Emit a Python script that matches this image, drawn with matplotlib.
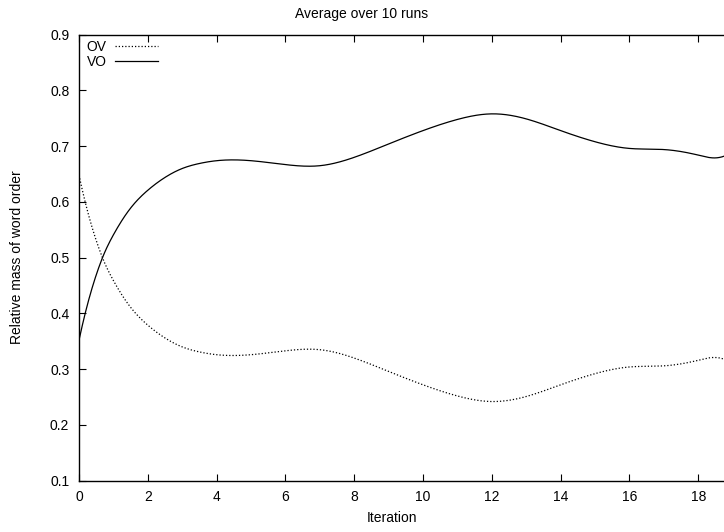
import numpy as np
import matplotlib
matplotlib.use("Agg")
import matplotlib.pyplot as plt

plt.rcParams['font.family'] = ['Liberation Sans', 'DejaVu Sans']

# Average relative mass of each word order along the run
iteration = [0, 0.25, 0.5, 0.75, 1, 1.5, 2, 2.5, 3, 3.5, 4, 5, 6, 7, 8, 9,
             10, 11, 12, 13, 14, 15, 16, 17, 18, 18.5, 19]
vo_mass = [0.352, 0.417, 0.469, 0.510, 0.541, 0.589, 0.621, 0.644, 0.660, 0.669, 0.674,
           0.674, 0.667, 0.665, 0.680, 0.704, 0.728, 0.748, 0.758, 0.749, 0.728,
           0.708, 0.696, 0.694, 0.684, 0.679, 0.690]
ov_mass = [0.648, 0.583, 0.531, 0.490, 0.459, 0.411, 0.379, 0.356, 0.340, 0.331, 0.326,
           0.326, 0.333, 0.335, 0.320, 0.296, 0.272, 0.252, 0.242, 0.251, 0.272,
           0.292, 0.304, 0.306, 0.316, 0.321, 0.310]

x_ticks = [0, 2, 4, 6, 8, 10, 12, 14, 16, 18]
y_ticks = [0.1, 0.2, 0.3, 0.4, 0.5, 0.6, 0.7, 0.8, 0.9]


def cspline(x, y, n=800):
    """Cubic spline through the points with parabolic run-out at both ends."""
    x = np.asarray(x, float)
    y = np.asarray(y, float)
    m = len(x)
    h = np.diff(x)
    A = np.zeros((m, m))
    b = np.zeros(m)
    A[0, 0], A[0, 1] = 1.0, -1.0
    A[-1, -1], A[-1, -2] = 1.0, -1.0
    for i in range(1, m - 1):
        A[i, i - 1] = h[i - 1]
        A[i, i] = 2 * (h[i - 1] + h[i])
        A[i, i + 1] = h[i]
        b[i] = 6 * ((y[i + 1] - y[i]) / h[i] - (y[i] - y[i - 1]) / h[i - 1])
    M = np.linalg.solve(A, b)
    xs = np.linspace(x[0], x[-1], n)
    idx = np.clip(np.searchsorted(x, xs) - 1, 0, m - 2)
    x0, x1 = x[idx], x[idx + 1]
    hh = x1 - x0
    t0 = x1 - xs
    t1 = xs - x0
    ys = (M[idx] * t0 ** 3 / (6 * hh) + M[idx + 1] * t1 ** 3 / (6 * hh)
          + (y[idx] / hh - M[idx] * hh / 6) * t0
          + (y[idx + 1] / hh - M[idx + 1] * hh / 6) * t1)
    return xs, ys


fig = plt.figure(figsize=(7.24, 5.32), dpi=100)
ax = fig.add_axes([79 / 724, 51.3 / 532, 1 - 79 / 724, 446 / 532])

xs, ys = cspline(iteration, ov_mass)
ax.plot(xs, ys, color='black', lw=0.9, linestyle=(0, (1, 1.6)), label='OV')
xs, ys = cspline(iteration, vo_mass)
ax.plot(xs, ys, color='black', lw=0.9, label='VO')

ax.set_xlim(0, 18.75)
ax.set_ylim(0.1, 0.9)
ax.set_xticks(x_ticks)
ax.set_xticklabels([str(v) for v in x_ticks])
ax.set_yticks(y_ticks)
ax.set_yticklabels([f"{v:.1f}" for v in y_ticks])

ax.spines['right'].set_visible(False)
for s in ('left', 'bottom', 'top'):
    ax.spines[s].set_linewidth(1.0)

ax.tick_params(axis='both', direction='in', length=5, width=0.8,
               labelsize=10, top=True, right=False)
ax.tick_params(axis='x', pad=7)
ax.tick_params(axis='y', pad=7)

leg = ax.legend(loc='upper left', bbox_to_anchor=(0.0, 1.005), frameon=False,
                markerfirst=False, fontsize=10, handlelength=3.1,
                handletextpad=0.6, labelspacing=0.05, borderaxespad=0.15)

fig.text(0.5, 1 - 14 / 532, 'Average over 10 runs', ha='center', va='center', fontsize=10)
fig.text(392 / 724, 1 - 518 / 532, 'Iteration', ha='center', va='center', fontsize=10)
fig.text(17 / 724, 1 - 257 / 532, 'Relative mass of word order', ha='center', va='center',
         rotation=90, fontsize=10)

fig.savefig('out.png', dpi=100)
